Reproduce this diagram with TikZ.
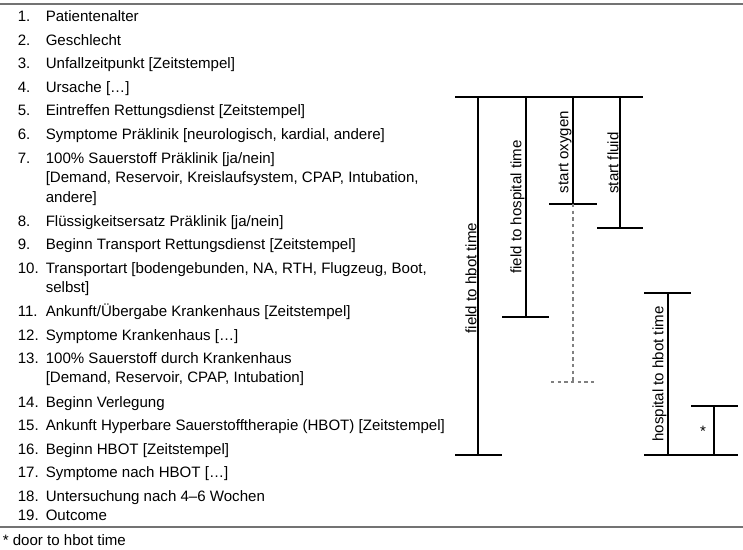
\documentclass[tikz,border=0pt]{standalone}
\usepackage{fontspec}
\setmainfont{Liberation Sans}
\usetikzlibrary{positioning}

\begin{document}
\begin{tikzpicture}[
    x=0.75pt, y=-0.75pt,
    every node/.style={font=\fontsize{11.3}{14.6}\selectfont},
    num/.style={anchor=base west, inner sep=0pt},
    item/.style={anchor=base west, inner sep=0pt, align=left},
    rule/.style={draw=black!55, line width=1.3pt},
    bar/.style={line width=0.8pt},
    dashbar/.style={draw=black!50, line width=0.8pt, dash pattern=on 2.5pt off 2.5pt},
    lab/.style={rotate=90, anchor=south, inner sep=1pt}
]
    \useasboundingbox (0,0) rectangle (743,550);

    % Rules
    \draw[rule] (0,4) -- (743,4);
    \draw[rule] (0,527) -- (743,527);

    % List (multi-line items sit on their last line)
    \node[num] (n1) at (17.5,21) {1.};
    \node[item] (t1) at (45.5,21) {Patientenalter};
    \node[num] (n2) at (17.5,45) {2.};
    \node[item] (t2) at (45.5,45) {Geschlecht};
    \node[num] (n3) at (17.5,68) {3.};
    \node[item] (t3) at (45.5,68) {Unfallzeitpunkt [Zeitstempel]};
    \node[num] (n4) at (17.5,92) {4.};
    \node[item] (t4) at (45.5,92) {Ursache […]};
    \node[num] (n5) at (17.5,115) {5.};
    \node[item] (t5) at (45.5,115) {Eintreffen Rettungsdienst [Zeitstempel]};
    \node[num] (n6) at (17.5,139) {6.};
    \node[item] (t6) at (45.5,139) {Symptome Präklinik [neurologisch, kardial, andere]};
    \node[num] (n7) at (17.5,163) {7.};
    \node[item] (t7) at (45.5,202) {100\% Sauerstoff Präklinik [ja/nein]\\{}[Demand, Reservoir, Kreislaufsystem, CPAP, Intubation,\\andere]};
    \node[num] (n8) at (17.5,226) {8.};
    \node[item] (t8) at (45.5,226) {Flüssigkeitsersatz Präklinik [ja/nein]};
    \node[num] (n9) at (17.5,249) {9.};
    \node[item] (t9) at (45.5,249) {Beginn Transport Rettungsdienst [Zeitstempel]};
    \node[num] (n10) at (17.5,273) {10.};
    \node[item] (t10) at (45.5,292.5) {Transportart [bodengebunden, NA, RTH, Flugzeug, Boot,\\selbst]};
    \node[num] (n11) at (17.5,316) {11.};
    \node[item] (t11) at (45.5,316) {Ankunft/Übergabe Krankenhaus [Zeitstempel]};
    \node[num] (n12) at (17.5,340) {12.};
    \node[item] (t12) at (45.5,340) {Symptome Krankenhaus […]};
    \node[num] (n13) at (17.5,363) {13.};
    \node[item] (t13) at (45.5,382.5) {100\% Sauerstoff durch Krankenhaus\\{}[Demand, Reservoir, CPAP, Intubation]};
    \node[num] (n14) at (17.5,407) {14.};
    \node[item] (t14) at (45.5,407) {Beginn Verlegung};
    \node[num] (n15) at (17.5,430) {15.};
    \node[item] (t15) at (45.5,430) {Ankunft Hyperbare Sauerstofftherapie (HBOT) [Zeitstempel]};
    \node[num] (n16) at (17.5,454) {16.};
    \node[item] (t16) at (45.5,454) {Beginn HBOT [Zeitstempel]};
    \node[num] (n17) at (17.5,477) {17.};
    \node[item] (t17) at (45.5,477) {Symptome nach HBOT […]};
    \node[num] (n18) at (17.5,501) {18.};
    \node[item] (t18) at (45.5,501) {Untersuchung nach 4–6 Wochen};
    \node[num] (n19) at (17.5,520) {19.};
    \node[item] (t19) at (45.5,520) {Outcome};

    % Footnote
    \node[item] (foot) at (2.5,545) {* door to hbot time};

    % Time bars
    \draw[bar] (455,97) -- (643,97);
    \draw[bar] (478,97) -- (478,455);
    \draw[bar] (455,455) -- (502,455);
    \draw[bar] (526,97) -- (526,317);
    \draw[bar] (502,317) -- (549,317);
    \draw[bar] (573,97) -- (573,204);
    \draw[bar] (549,204) -- (597,204);
    \draw[bar] (620,97) -- (620,228);
    \draw[bar] (597,228) -- (643,228);
    \draw[dashbar] (573,204) -- (573,382);
    \draw[dashbar] (551,382) -- (597,382);
    \draw[bar] (644,293) -- (691,293);
    \draw[bar] (668,293) -- (668,455);
    \draw[bar] (644,455) -- (738,455);
    \draw[bar] (691,406) -- (738,406);
    \draw[bar] (714,406) -- (714,455);

    % Labels
    \node[lab] (fieldhbot) at (478,278) {field to hbot time};
    \node[lab] (fieldhosp) at (526,207) {field to hospital time};
    \node[lab] (oxygen) at (573,152) {start oxygen};
    \node[lab] (fluid) at (620,163) {start fluid};
    \node[lab] (hosphbot) at (668,374) {hospital to hbot time};
    \node[anchor=base, inner sep=0pt] (door) at (703,436) {*};
\end{tikzpicture}
\end{document}
